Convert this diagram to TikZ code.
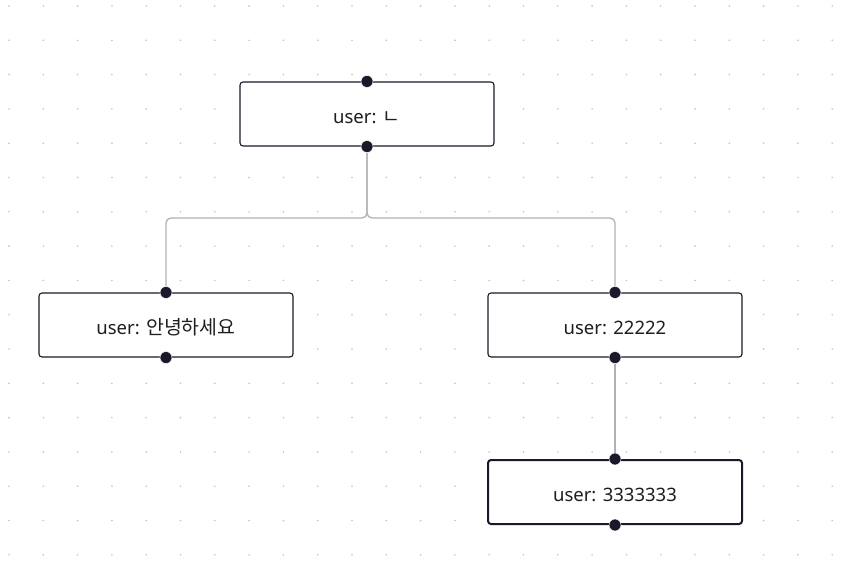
\documentclass[tikz,border=0pt]{standalone}
\usepackage{fontspec}
\setmainfont{Noto Sans}
\newfontfamily\kr[Scale=1.05]{Noto Sans CJK KR}
\usepackage{tikz}
\usetikzlibrary{arrows}

\definecolor{flowink}{HTML}{1A192B}
\definecolor{edgegray}{HTML}{B1B1B7}
\definecolor{dotgray}{HTML}{C4C4C4}
\definecolor{labelink}{HTML}{1E1E1E}

\begin{document}
\begin{tikzpicture}[x=1pt,y=-1pt,-,node distance=167pt,
                    msg node/.style={rectangle, draw=flowink, line width=1.1pt, rounded corners=3pt,
                      fill=white, minimum width=254pt, minimum height=64pt,
                      text height=19pt, text depth=0pt,
                      text=labelink, font=\fontsize{18.5}{22}\selectfont},
                    picked/.style={line width=2pt},
                    edge line/.style={draw=edgegray, line width=1.3pt, rounded corners=5pt},
                    handle/.style={fill=flowink, draw=white, line width=0.5pt}]

  \useasboundingbox[fill=white] (0,0) rectangle (851,578);

  %Dots%
  \foreach \i in {0,...,24}
    \foreach \j in {0,...,16}
      \fill[dotgray] (9+34.3*\i, 6+34.3*\j) circle (0.9);

  %Messages%
  \node[msg node] (root) at (367,114) {user: {\kr ㄴ}};
  \node[msg node] (hello) at (166,325) {user: {\kr 안녕하세요}};
  \node[msg node] (two) at (615,325) {user: 22222};
  \node[msg node, picked] (three) [below of=two] {user: 3333333};

  \coordinate (split) at (367,218);

  %Edges%
  \path[edge line] (root.south) -- (split) -| (hello.north);
  \path[edge line] (root.south) -- (split) -| (two.north);
  \path[edge line] (two.south) -- (three.north);

  %Handles%
  \foreach \n in {root,hello,two,three}{
    \filldraw[handle] (\n.north) circle (6);
    \filldraw[handle] (\n.south) circle (6);
  }
\end{tikzpicture}
\end{document}
